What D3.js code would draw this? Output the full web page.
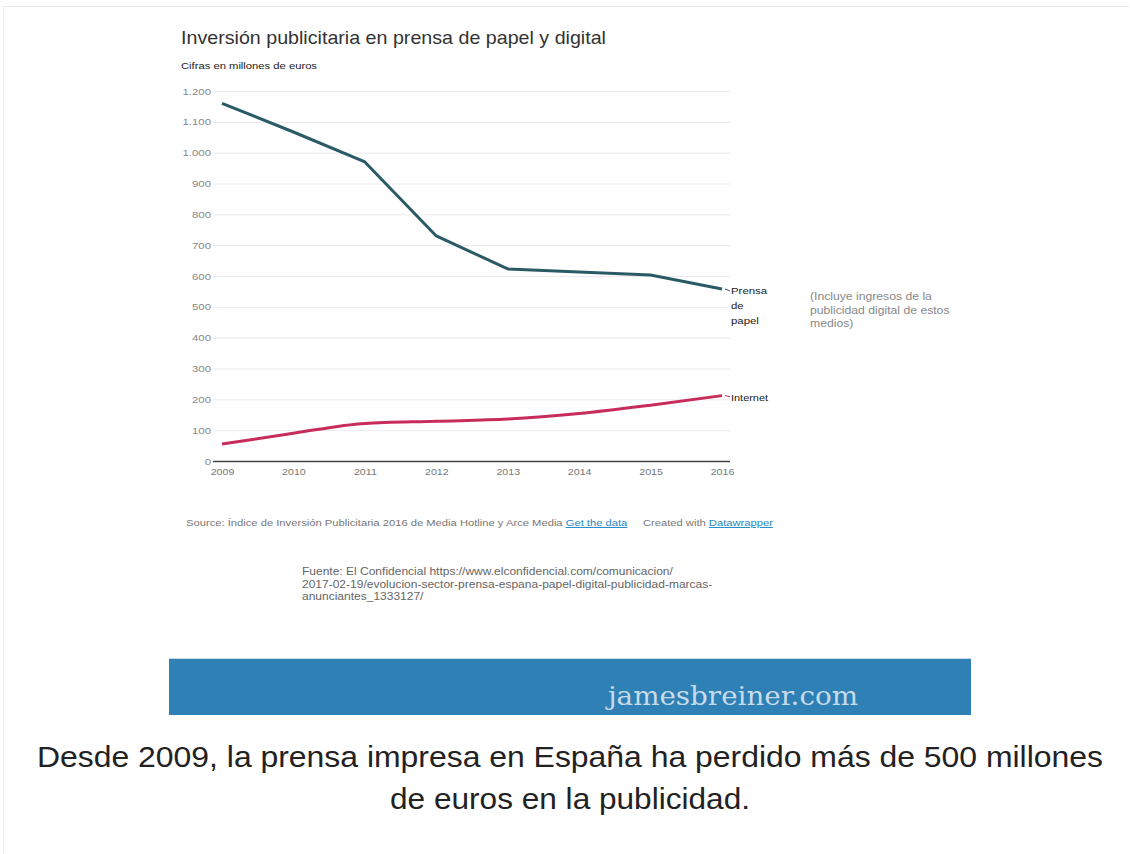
<!DOCTYPE html>
<html><head><meta charset="utf-8">
<script src="https://cdn.jsdelivr.net/npm/d3@7"></script>
<style>
html,body{margin:0;padding:0;background:#fff;}
svg{display:block;}
</style></head>
<body>
<svg id="c" width="1130" height="854"></svg>
<script>
const years = [2009, 2010, 2011, 2012, 2013, 2014, 2015, 2016];
const prensa = [1160, 1067, 970, 730, 623, 613, 603, 558];
const internet = [55, 90, 122, 129, 136, 154, 181, 212];
const yTicks = [0, 100, 200, 300, 400, 500, 600, 700, 800, 900, 1000, 1100, 1200];
const yTickLabels = ["0","100","200","300","400","500","600","700","800","900","1.000","1.100","1.200"];
const title = "Inversión publicitaria en prensa de papel y digital";
const subtitle = "Cifras en millones de euros";
const noteLines = ["(Incluye ingresos de la", "publicidad digital de estos", "medios)"];
const fuenteLines = [
  "Fuente: El Confidencial https://www.elconfidencial.com/comunicacion/",
  "2017-02-19/evolucion-sector-prensa-espana-papel-digital-publicidad-marcas-",
  "anunciantes_1333127/"
];
const captionLines = ["Desde 2009, la prensa impresa en España ha perdido más de 500 millones", "de euros en la publicidad."];

const svg = d3.select("#c");
const font = "'Liberation Sans', Arial, Helvetica, sans-serif";

function stretch(sel, k) {
  sel.each(function() {
    const w = this.getComputedTextLength();
    d3.select(this).attr("textLength", w * k).attr("lengthAdjust", "spacingAndGlyphs");
  });
}

// outer frame lines
svg.append("line").attr("x1",3).attr("x2",1129).attr("y1",6.5).attr("y2",6.5).attr("stroke","#e6e6e6");
svg.append("line").attr("x1",3.5).attr("x2",3.5).attr("y1",6).attr("y2",854).attr("stroke","#ececec");

const x = d3.scalePoint().domain(years).range([222, 722]);
const y = d3.scaleLinear().domain([0, 1200]).range([461, 91]);

svg.append("text").attr("x",181).attr("y",44).attr("font-family",font).attr("font-size",19)
  .attr("fill","#333").attr("textLength",425).attr("lengthAdjust","spacingAndGlyphs").text(title);
svg.append("text").attr("x",181).attr("y",69).attr("font-family",font).attr("font-size",9)
  .attr("fill","#222").attr("textLength",136).attr("lengthAdjust","spacingAndGlyphs").text(subtitle);

// gridlines
const gy = svg.append("g");
gy.selectAll("line").data(yTicks.filter(d=>d>0)).join("line")
  .attr("x1",213).attr("x2",730).attr("y1",d=>y(d)+0.5).attr("y2",d=>y(d)+0.5)
  .attr("stroke","#ebebeb").attr("stroke-width",1);

const yAxis = d3.axisLeft(y).tickValues(yTicks).tickSize(0).tickPadding(0)
  .tickFormat((d,i)=>yTickLabels[i]);
const ya = svg.append("g").attr("transform","translate(211,0)").call(yAxis);
ya.select(".domain").remove();
ya.selectAll("text").attr("font-family",font).attr("font-size",9.5).attr("fill","#888");
stretch(ya.selectAll("text"), 1.2);

// baseline
svg.append("line").attr("x1",213).attr("x2",730).attr("y1",y(0)+0.5).attr("y2",y(0)+0.5)
  .attr("stroke","#444").attr("stroke-width",1.5);

const xAxis = d3.axisBottom(x).tickSize(0).tickPadding(7);
const xa = svg.append("g").attr("transform",`translate(0,${y(0)})`).call(xAxis);
xa.select(".domain").remove();
xa.selectAll("text").attr("font-family",font).attr("font-size",9.5).attr("fill","#777");
stretch(xa.selectAll("text"), 1.12);

const linePrensa = d3.line().x((d,i)=>x(years[i])).y(d=>y(d)).curve(d3.curveLinear);
const lineInternet = d3.line().x((d,i)=>x(years[i])).y(d=>y(d)).curve(d3.curveMonotoneX);
svg.append("path").datum(prensa).attr("d",linePrensa).attr("fill","none")
  .attr("stroke","#2b5a67").attr("stroke-width",3).attr("stroke-linejoin","round");
svg.append("path").datum(internet).attr("d",lineInternet).attr("fill","none")
  .attr("stroke","#c72c5b").attr("stroke-width",3).attr("stroke-linejoin","round");

// series labels
const lx = x(2016);
svg.append("line").attr("x1",lx+3).attr("x2",lx+8).attr("y1",y(prensa[7])).attr("y2",y(prensa[7])+2).attr("stroke","#2b5a67");
const pl = svg.append("text").attr("font-family",font).attr("font-size",9.5).attr("fill","#222");
["Prensa","de","papel"].forEach((t,i)=>pl.append("tspan").attr("x",lx+9).attr("y",y(prensa[7])+5+i*15).text(t));
stretch(pl.selectAll("tspan"), 1.2);
svg.append("line").attr("x1",lx+3).attr("x2",lx+8).attr("y1",y(internet[7])).attr("y2",y(internet[7])+1).attr("stroke","#c72c5b");
const il = svg.append("text").attr("x",lx+9).attr("y",y(internet[7])+5).attr("font-family",font).attr("font-size",9.5).attr("fill","#222").text("Internet");
stretch(il, 1.15);

// note
const nt = svg.append("text").attr("font-family",font).attr("font-size",10.5).attr("fill","#888");
noteLines.forEach((t,i)=>nt.append("tspan").attr("x",810).attr("y",300+i*13.5).text(t));
stretch(nt.selectAll("tspan"), 1.16);

// source
const src = svg.append("text").attr("x",186).attr("y",526).attr("font-family",font).attr("font-size",9.5).attr("fill","#777");
src.append("tspan").text("Source: Índice de Inversión Publicitaria 2016 de Media Hotline y Arce Media ");
src.append("tspan").attr("fill","#1f86c7").attr("text-decoration","underline").text("Get the data");
src.append("tspan").text("\u00a0\u00a0\u00a0\u00a0\u00a0Created with ");
src.append("tspan").attr("fill","#1f86c7").attr("text-decoration","underline").text("Datawrapper");
src.attr("textLength",587).attr("lengthAdjust","spacingAndGlyphs");

const ft = svg.append("text").attr("font-family",font).attr("font-size",10).attr("fill","#666");
fuenteLines.forEach((t,i)=>ft.append("tspan").attr("x",302).attr("y",575+i*12.5).text(t));
stretch(ft.selectAll("tspan"), 1.2);

// banner
svg.append("rect").attr("x",169).attr("y",658).attr("width",802).attr("height",1).attr("fill","#c9dbe8");
svg.append("rect").attr("x",169).attr("y",659).attr("width",802).attr("height",56).attr("fill","#2f80b5");
svg.append("text").attr("x",608).attr("y",705).attr("font-family","'DejaVu Serif', serif")
  .attr("font-stretch","condensed")
  .attr("font-size",26).attr("fill","#c6dbea")
  .attr("textLength",250).attr("lengthAdjust","spacingAndGlyphs").text("jamesbreiner.com");

// caption
const cp = svg.append("text").attr("font-family",font).attr("font-size",29).attr("fill","#222").attr("text-anchor","middle");
captionLines.forEach((t,i)=>cp.append("tspan").attr("x",570).attr("y",767+i*42).text(t));
const capW = [1066, 360];
cp.selectAll("tspan").each(function(d,i){ d3.select(this).attr("textLength",capW[i]).attr("lengthAdjust","spacingAndGlyphs"); });
</script>
</body></html>
